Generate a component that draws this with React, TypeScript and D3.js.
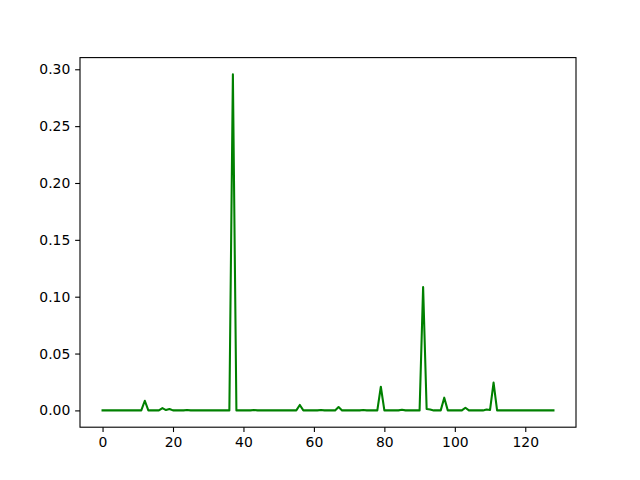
import React, { useEffect, useRef } from "react";
import * as d3 from "d3";

// one value per sample index 0..128
const signalValues: number[] = [
  0, 0, 0, 0, 0, 0, 0, 0, 0, 0,
  0, 0, 0.0085, 0, 0, 0, 0, 0.002, 0.0003, 0.0013,
  0, 0, 0, 0, 0.0004, 0, 0, 0, 0, 0,
  0, 0, 0, 0, 0, 0, 0, 0.2955, 0, 0,
  0, 0, 0, 0.0003, 0, 0, 0, 0, 0, 0,
  0, 0, 0, 0, 0, 0, 0.0048, 0, 0, 0,
  0, 0, 0.0003, 0, 0, 0, 0, 0.003, 0, 0,
  0, 0, 0, 0, 0.0003, 0, 0, 0, 0, 0.0208,
  0, 0, 0, 0, 0, 0.0005, 0, 0, 0, 0,
  0, 0.1085, 0.0012, 0.0008, 0, 0, 0, 0.0112, 0, 0,
  0, 0, 0, 0.0023, 0, 0, 0, 0, 0, 0.0008,
  0.0004, 0.0245, 0, 0, 0, 0, 0, 0, 0, 0,
  0, 0, 0, 0, 0, 0, 0, 0, 0,
];

const xTicks = [0, 20, 40, 60, 80, 100, 120];
const yTicks = [0, 0.05, 0.1, 0.15, 0.2, 0.25, 0.3];

const App = () => {
  const ref = useRef<SVGSVGElement>(null);

  useEffect(() => {
    const svgWidth = 640, svgHeight = 480;
    const left = 80, right = 576, top = 57.6, bottom = 427.2;

    const svg = d3.select(ref.current);
    svg.selectAll("*").remove();

    const xMax = signalValues.length - 1;
    const xPad = xMax * 0.05;
    const xScale = d3.scaleLinear().domain([-xPad, xMax + xPad]).range([left, right]);

    const yMin = d3.min(signalValues) as number;
    const yMax = d3.max(signalValues) as number;
    const yPad = (yMax - yMin) * 0.05;
    const yScale = d3.scaleLinear().domain([yMin - yPad, yMax + yPad]).range([bottom, top]);

    svg.attr("width", svgWidth).attr("height", svgHeight);
    svg.append("rect").attr("width", svgWidth).attr("height", svgHeight).attr("fill", "white");

    // the line
    const line = d3.line<number>()
      .x((d, i) => xScale(i))
      .y(d => yScale(d));

    svg.append("path")
      .datum(signalValues)
      .attr("d", line)
      .attr("fill", "none")
      .attr("stroke", "#008000")
      .attr("stroke-width", 2.08)
      .attr("stroke-linejoin", "round")
      .attr("stroke-linecap", "square");

    // X-axis
    const xAxis = svg.append("g")
      .attr("transform", `translate(0, ${bottom})`)
      .call(d3.axisBottom(xScale).tickValues(xTicks).tickSize(4.86).tickPadding(4.86).tickFormat(d3.format("d")));
    // Y-axis
    const yAxis = svg.append("g")
      .attr("transform", `translate(${left}, 0)`)
      .call(d3.axisLeft(yScale).tickValues(yTicks).tickSize(4.86).tickPadding(4.86).tickFormat(d3.format(".2f")));

    [xAxis, yAxis].forEach(g => {
      g.select(".domain").remove();
      g.selectAll("line").attr("stroke", "black").attr("stroke-width", 1.1);
      g.selectAll("text")
        .attr("fill", "black")
        .style("font-family", "DejaVu Sans")
        .style("font-size", "13.9px");
    });

    // frame
    svg.append("rect")
      .attr("x", left)
      .attr("y", top)
      .attr("width", right - left)
      .attr("height", bottom - top)
      .attr("fill", "none")
      .attr("stroke", "black")
      .attr("stroke-width", 1.1);
  }, []);

  return (
    <svg ref={ref} style={{ position: "absolute", left: 0, top: 0 }}></svg>
  );
};

export default App;
